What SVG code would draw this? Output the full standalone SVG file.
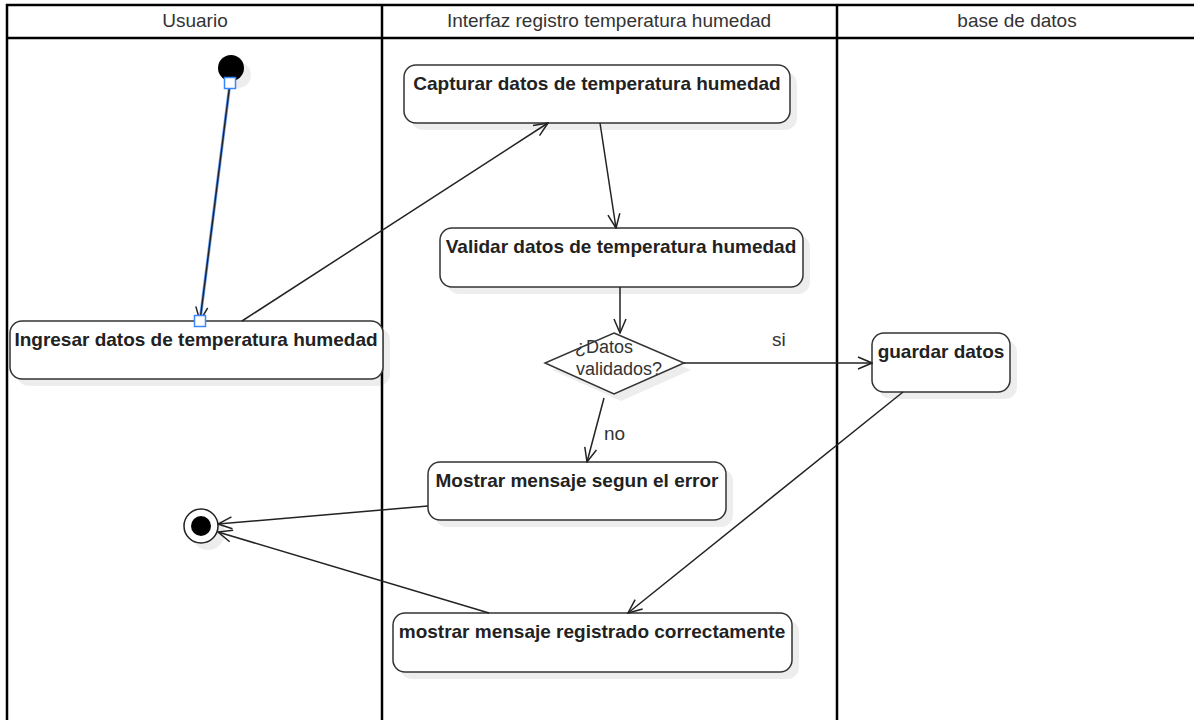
<svg xmlns="http://www.w3.org/2000/svg" width="1194" height="720" viewBox="0 0 1194 720">
<defs>
<style>
.lane{fill:none;stroke:#000;stroke-width:2.5}
.hdr{font-family:"Liberation Sans",Arial,sans-serif;font-size:19px;fill:#333;text-anchor:middle}
.box{fill:#fff;stroke:#333;stroke-width:1.5}
.shadow{fill:#000;fill-opacity:0.07;stroke:none}
.lbl{font-family:"Liberation Sans",Arial,sans-serif;font-size:19px;font-weight:bold;fill:#222;text-anchor:middle}
.txt{font-family:"Liberation Sans",Arial,sans-serif;font-size:19px;fill:#333}
.dtxt{font-family:"Liberation Sans",Arial,sans-serif;font-size:18px;fill:#333}
.edge{fill:none;stroke:#222;stroke-width:1.5;marker-end:url(#arr)}
.handle{fill:#fff;stroke:#3a86ff;stroke-width:1.5}
</style>
<marker id="arr" viewBox="0 0 16 14" refX="15" refY="7" markerWidth="16" markerHeight="14" markerUnits="userSpaceOnUse" orient="auto">
<path d="M1,1 L15,7 L1,13" fill="none" stroke="#222" stroke-width="1.5"/>
</marker>
</defs>
<rect width="1194" height="720" fill="#fff"/>
<g id="lanes">
<rect x="7" y="5" width="1200" height="730" class="lane"/>
<line x1="7" y1="38" x2="1194" y2="38" class="lane"/>
<line x1="382" y1="5" x2="382" y2="720" class="lane"/>
<line x1="837" y1="5" x2="837" y2="720" class="lane"/>
<text x="195" y="27" class="hdr">Usuario</text>
<text x="609" y="27" class="hdr">Interfaz registro temperatura humedad</text>
<text x="1017" y="27" class="hdr">base de datos</text>
</g>
<g id="start">
<circle cx="238" cy="75" r="13" class="shadow"/>
<circle cx="231" cy="68" r="13" fill="#000"/>
</g>
<g id="ingresar">
<rect x="17" y="328" width="373" height="58" rx="12" class="shadow"/>
<rect x="10" y="321" width="373" height="58" rx="12" class="box"/>
<text x="196" y="346" class="lbl">Ingresar datos de temperatura humedad</text>
</g>
<g id="capturar">
<rect x="411" y="72" width="386" height="58" rx="12" class="shadow"/>
<rect x="404" y="65" width="386" height="58" rx="12" class="box"/>
<text x="597" y="90" class="lbl">Capturar datos de temperatura humedad</text>
</g>
<g id="validar">
<rect x="447" y="235" width="363" height="59" rx="12" class="shadow"/>
<rect x="440" y="228" width="363" height="59" rx="12" class="box"/>
<text x="621" y="253" class="lbl">Validar datos de temperatura humedad</text>
</g>
<g id="decision">
<polygon points="621,340 691,370 621,401 552,370" class="shadow"/>
<polygon points="614,333 684,363 614,394 545,363" fill="#fff" stroke="#333" stroke-width="1.5"/>
<text x="575" y="353" class="dtxt">¿Datos</text>
<text x="576" y="375" class="dtxt">validados?</text>
</g>
<g id="guardar">
<rect x="879" y="340" width="138" height="59" rx="12" class="shadow"/>
<rect x="872" y="333" width="138" height="59" rx="12" class="box"/>
<text x="941" y="358" class="lbl">guardar datos</text>
</g>
<g id="mostrarError">
<rect x="435" y="469" width="298" height="58" rx="12" class="shadow"/>
<rect x="428" y="462" width="298" height="58" rx="12" class="box"/>
<text x="577" y="487" class="lbl">Mostrar mensaje segun el error</text>
</g>
<g id="mostrarOk">
<rect x="400" y="620" width="399" height="59" rx="12" class="shadow"/>
<rect x="393" y="613" width="399" height="59" rx="12" class="box"/>
<text x="592" y="638" class="lbl">mostrar mensaje registrado correctamente</text>
</g>
<g id="end">
<circle cx="208" cy="533" r="17" class="shadow"/>
<circle cx="201" cy="526" r="17" fill="#fff" stroke="#222" stroke-width="1.5"/>
<circle cx="201" cy="526" r="10" fill="#000"/>
</g>
<g id="connectors">
<line x1="230" y1="83" x2="200" y2="321" stroke="#6aa3ff" stroke-width="3"/>
<path d="M230,83 L200,321" class="edge"/>
<rect x="224.5" y="77.5" width="11" height="11" class="handle"/>
<rect x="194.5" y="315.5" width="11" height="11" class="handle"/>
<path d="M242,321 L548,123" class="edge"/>
<path d="M600,123 L616,228" class="edge"/>
<path d="M620,287 L620,333" class="edge"/>
<path d="M684,363 L872,363" class="edge"/>
<text x="772" y="346" class="txt">si</text>
<path d="M604,398 L587,462" class="edge"/>
<text x="604" y="440" class="txt">no</text>
<path d="M428,506 L218,524" class="edge"/>
<path d="M903,392 L628,613" class="edge"/>
<path d="M489,613 L218,532" class="edge"/>
</g>
</svg>
